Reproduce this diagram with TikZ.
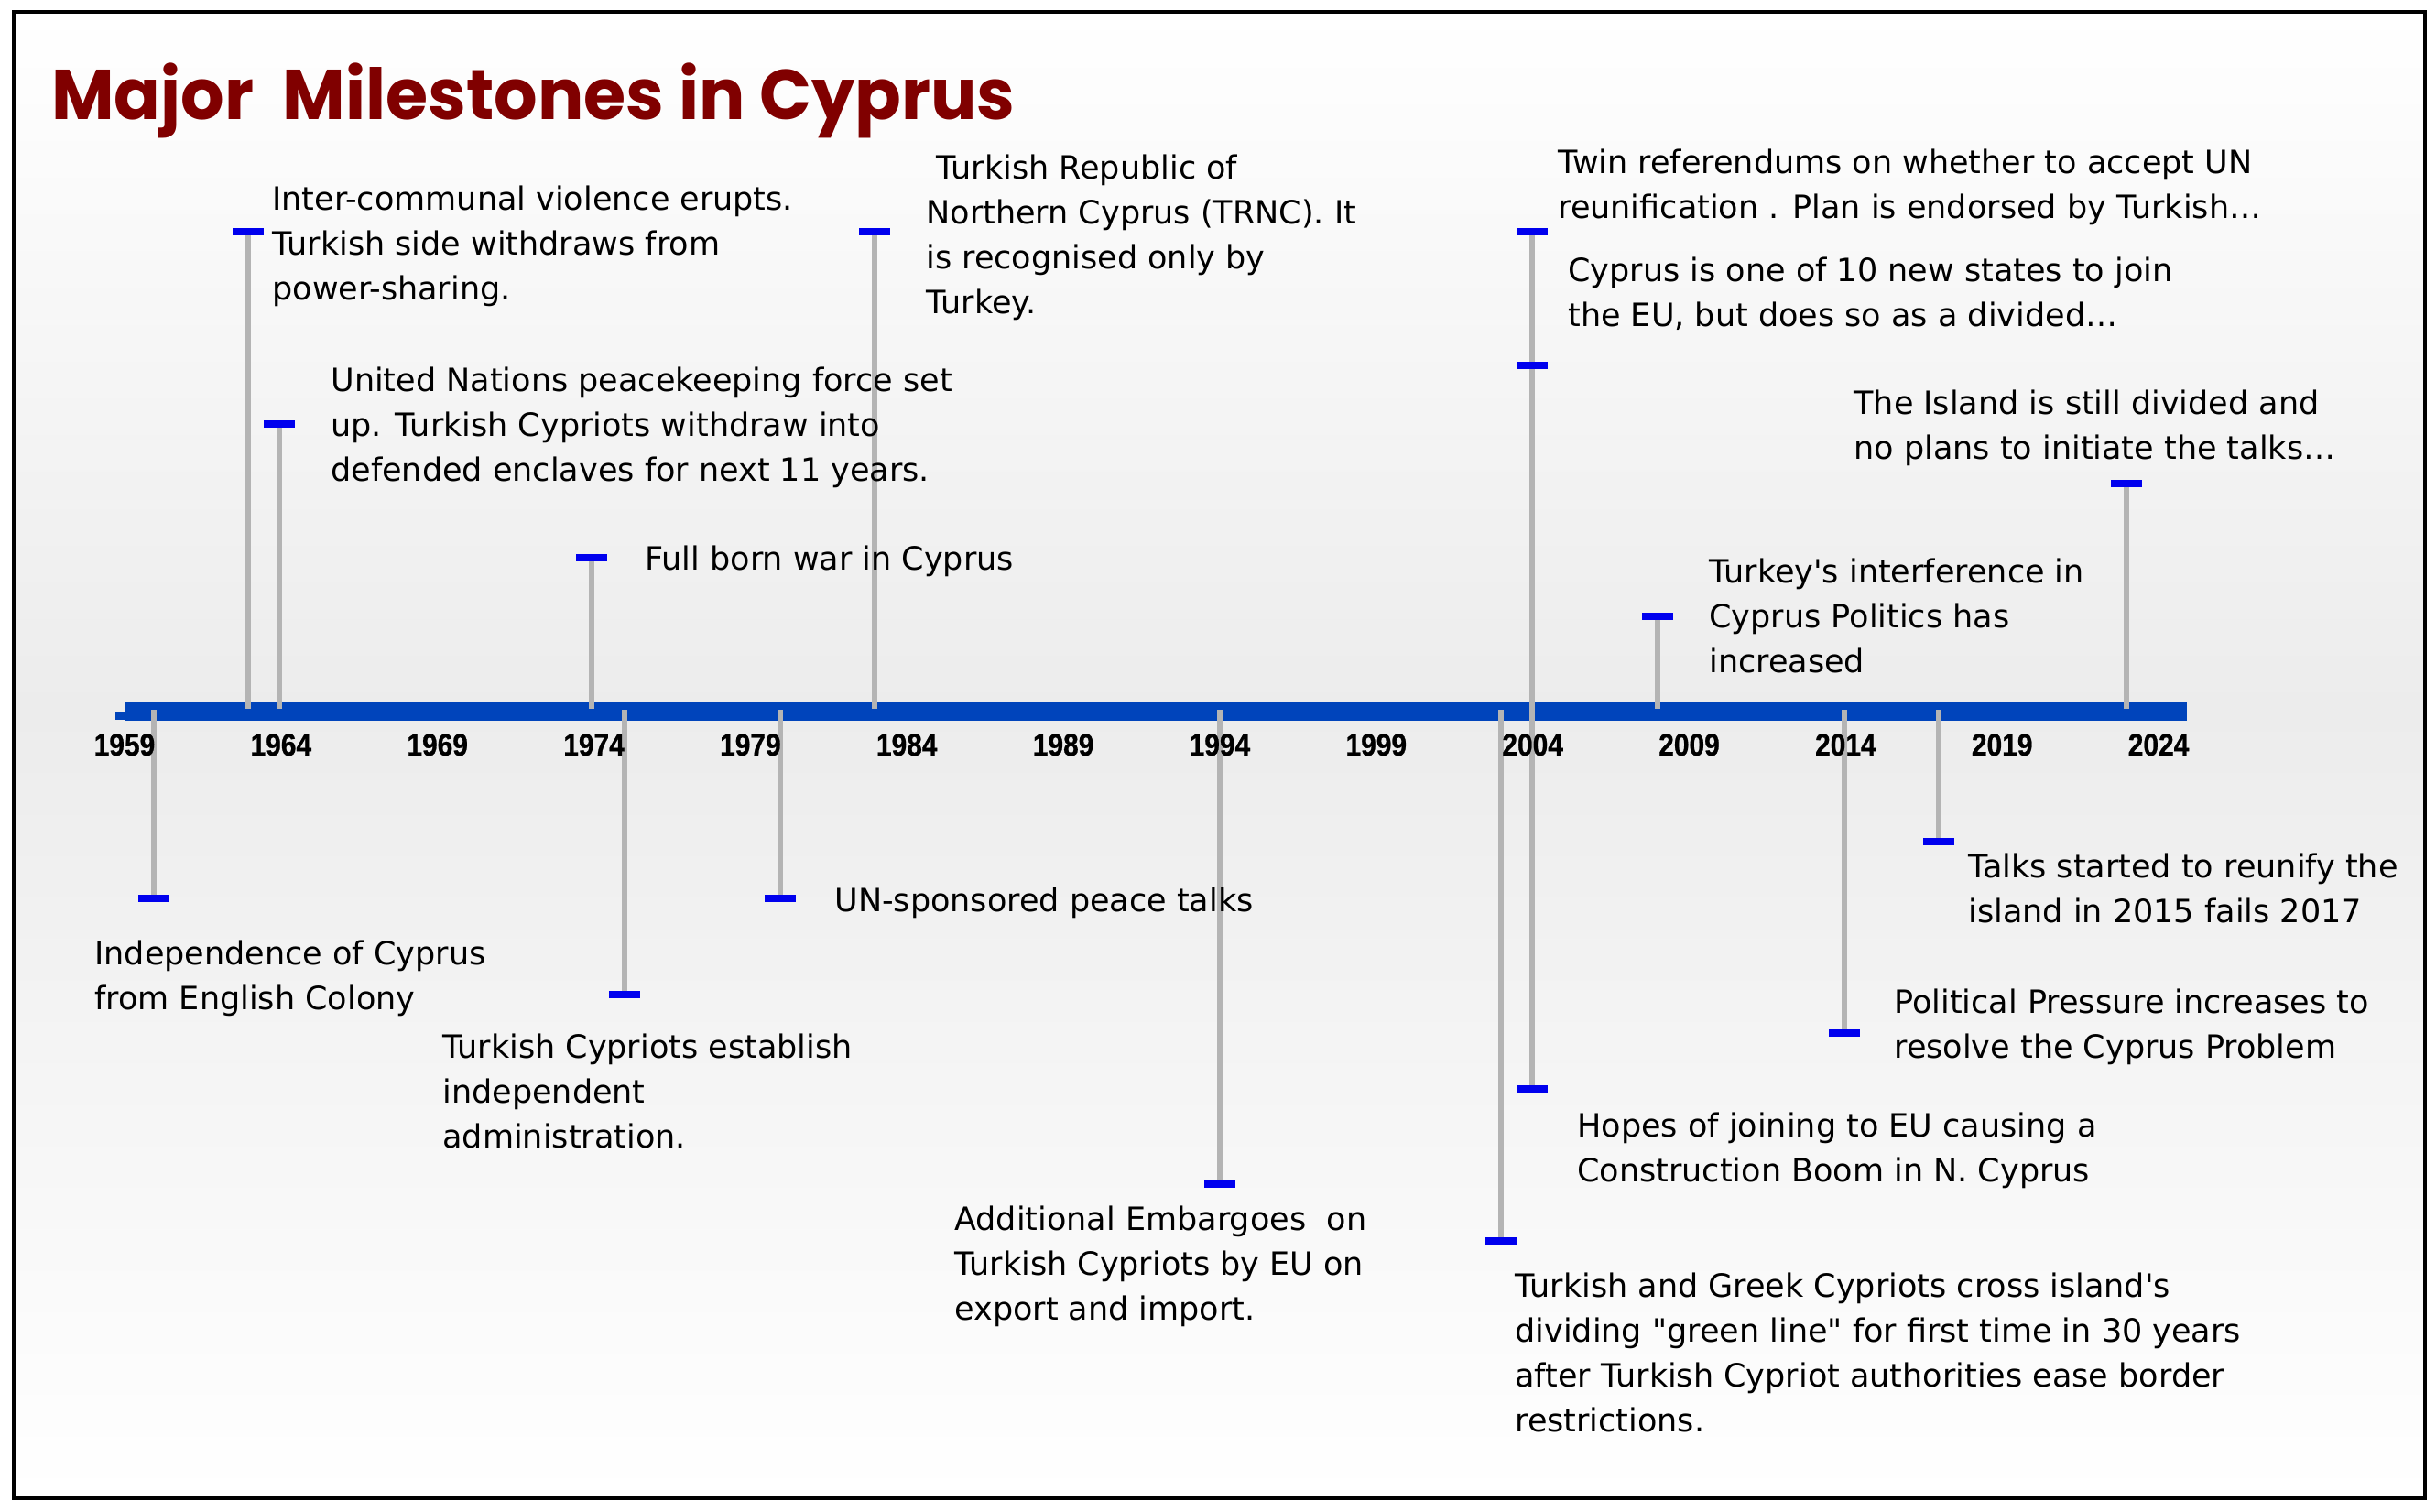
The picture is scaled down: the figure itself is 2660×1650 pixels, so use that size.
\documentclass[tikz,border=0pt]{standalone}
\usepackage{fontspec}
\usepackage{graphicx}
\newfontfamily\bodyfont{DejaVu Sans}
\newfontfamily\yearfont{Liberation Sans}[FakeBold=0.8]
\newfontfamily\titlefont{Poppins}
\definecolor{titlered}{RGB}{128,0,0}
\definecolor{axisblue}{RGB}{0,68,187}
\definecolor{tickblue}{RGB}{0,0,238}
\definecolor{stemgray}{RGB}{180,180,180}
\definecolor{bggray}{RGB}{236,236,236}
\begin{document}
\begin{tikzpicture}[x=0.5pt,y=-0.5pt,
  lbl/.style={anchor=base west, inner sep=0pt, align=left,
    font=\bodyfont\fontsize{17.5pt}{24.5pt}\selectfont},
  yearlbl/.style={anchor=base, inner sep=0pt,
    font=\yearfont\bfseries\fontsize{17pt}{17pt}\selectfont},
  tickmark/.style={rectangle, fill=tickblue, inner sep=0pt,
    minimum width=17pt, minimum height=4pt},
  stem/.style={draw=stemgray, line width=3pt}]
\useasboundingbox (0,0) rectangle (2660,1650);
\fill[white] (0,0) rectangle (2660,1650);
\shade[top color=white, bottom color=bggray] (15,13) rectangle (2648,776);
\shade[top color=bggray, bottom color=white] (15,776) rectangle (2648,1636);
\draw[line width=2pt] (15,13) rectangle (2648,1636);

% title
\node[anchor=base west, inner sep=0pt, text=titlered,
  font=\titlefont\bfseries\fontsize{38.5pt}{40pt}\selectfont] (title) at (56,130)
  {\resizebox{526pt}{\height}{Major\ \ Milestones in Cyprus}};

% axis bar
\fill[axisblue] (136,766) rectangle (2388,787);
\fill[axisblue] (126,777) rectangle (137,786);

% axis anchor coordinates
\coordinate (aA) at (271,774);
\coordinate (aB) at (305,774);
\coordinate (aC) at (646,774);
\coordinate (aD) at (955,774);
\coordinate (aF) at (1810,774);
\coordinate (aG) at (2322,774);
\coordinate (aH) at (168,775);
\coordinate (aI) at (682,775);
\coordinate (aJ) at (852,775);
\coordinate (aK) at (1332,775);
\coordinate (aL) at (1639,775);
\coordinate (aM) at (2014,775);
\coordinate (aN) at (2117,775);

% tick positions
\coordinate (cA) at (271,253);
\coordinate (cB) at (305,463);
\coordinate (cC) at (646,609);
\coordinate (cD) at (955,253);
\coordinate (cE1) at (1673,253);
\coordinate (cE2) at (1673,399);
\coordinate (cE3) at (1673,1189);
\coordinate (cF) at (1810,673);
\coordinate (cG) at (2322,528);
\coordinate (cH) at (168,981);
\coordinate (cI) at (682,1086);
\coordinate (cJ) at (852,981);
\coordinate (cK) at (1332,1293);
\coordinate (cL) at (1639,1355);
\coordinate (cM) at (2014,1128);
\coordinate (cN) at (2117,919);

% stems
\draw[stem] (cA) -- (aA);
\draw[stem] (cB) -- (aB);
\draw[stem] (cC) -- (aC);
\draw[stem] (cD) -- (aD);
\draw[stem] (cE1) -- (cE3);
\draw[stem] (cF) -- (aF);
\draw[stem] (cG) -- (aG);
\draw[stem] (aH) -- (cH);
\draw[stem] (aI) -- (cI);
\draw[stem] (aJ) -- (cJ);
\draw[stem] (aK) -- (cK);
\draw[stem] (aL) -- (cL);
\draw[stem] (aM) -- (cM);
\draw[stem] (aN) -- (cN);

% ticks
\foreach \t in {A,B,C,D,E1,E2,E3,F,G,H,I,J,K,L,M,N}
  \node[tickmark] (t\t) at (c\t) {};

% year labels
\foreach \yr in {1959,1964,1969,1974,1979,1984,1989,1994,1999,2004,2009,2014,2019,2024}
  \node[yearlbl] (y\yr) at ({136+(\yr-1959)*34.17},825) {\scalebox{0.88}[1]{\yr}};

% event labels (anchored at the baseline of the last line)
\node[lbl] (L1) at (297,327) {Inter-communal violence erupts.\\Turkish side withdraws from\\power-sharing.};
\node[lbl] (L2) at (361,525) {United Nations peacekeeping force set\\up. Turkish Cypriots withdraw into\\defended enclaves for next 11 years.};
\node[lbl] (L3) at (704,622) {Full born war in Cyprus};
\node[lbl] (L4) at (1011,342) {\hspace{5.5pt}Turkish Republic of\\Northern Cyprus (TRNC). It\\is recognised only by\\Turkey.};
\node[lbl] (L5) at (1701,238) {Twin referendums on whether to accept UN\\reunification . Plan is endorsed by Turkish…};
\node[lbl] (L6) at (1712,356) {Cyprus is one of 10 new states to join\\the EU, but does so as a divided…};
\node[lbl] (L7) at (1866,734) {Turkey\textquotesingle s interference in\\Cyprus Politics has\\increased};
\node[lbl] (L8) at (2024,501) {The Island is still divided and\\no plans to initiate the talks…};
\node[lbl] (L9) at (103,1102) {Independence of Cyprus\\from English Colony};
\node[lbl] (L10) at (483,1253) {Turkish Cypriots establish\\independent\\administration.};
\node[lbl] (L11) at (911,995) {UN-sponsored peace talks};
\node[lbl] (L12) at (1042,1441) {Additional Embargoes\ \ on\\Turkish Cypriots by EU on\\export and import.};
\node[lbl] (L13) at (1654,1563) {Turkish and Greek Cypriots cross island\textquotesingle s\\dividing "green line" for first time in 30 years\\after Turkish Cypriot authorities ease border\\restrictions.};
\node[lbl] (L14) at (1722,1290) {Hopes of joining to EU causing a\\Construction Boom in N. Cyprus};
\node[lbl] (L15) at (2068,1155) {Political Pressure increases to\\resolve the Cyprus Problem};
\node[lbl] (L16) at (2149,1007) {Talks started to reunify the\\island in 2015 fails 2017};
\end{tikzpicture}
\end{document}
